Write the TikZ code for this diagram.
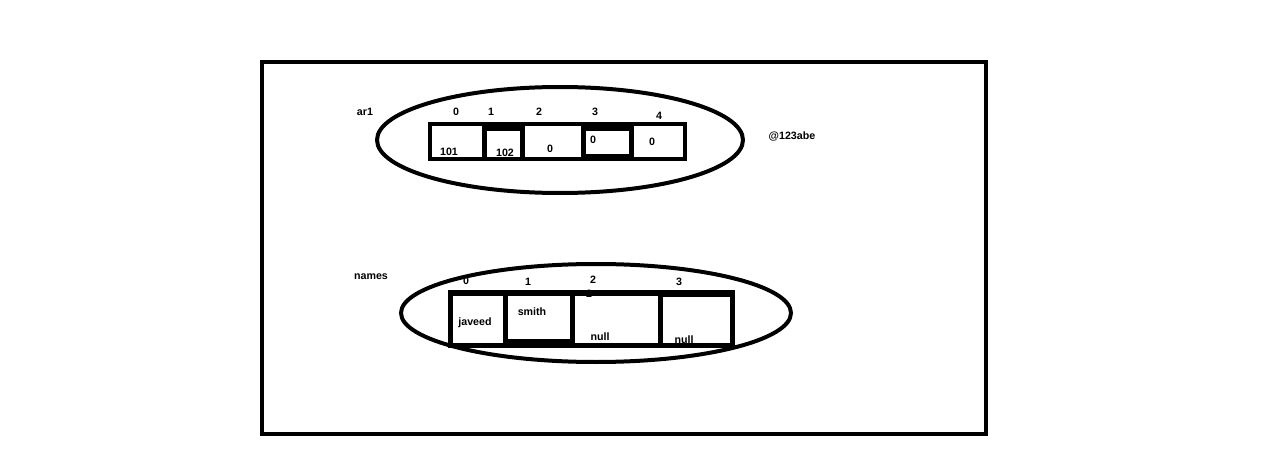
\documentclass[tikz,border=0pt]{standalone}
\usepackage{fontspec}
\newfontfamily\labfont{Liberation Sans}
\begin{document}
\begin{tikzpicture}[x=0.75pt,y=-0.75pt,
  lbl/.style={font=\labfont\bfseries\fontsize{8}{9.5}\selectfont, inner sep=0, text=black},
  heavy/.style={line width=3pt, draw=black},
  cellfill/.style={fill=white}]
\useasboundingbox (0,0) rectangle (1283,460);
% outer frame
\draw[heavy] (262,62) rectangle (986,434);

% ---- ar1 array ----
\fill[black] (428,122) rectangle (687,161);
\fill[cellfill] (432,126) rectangle (482,157);
\fill[cellfill] (487,131) rectangle (520,157);
\fill[cellfill] (525,126) rectangle (581,157);
\fill[cellfill] (586,131) rectangle (629,154);
\fill[cellfill] (634,126) rectangle (683,157);

\node[lbl] (ar1) at (365,112) {ar1};
\node[lbl] (i0) at (456,112) {0};
\node[lbl] (i1) at (491,112) {1};
\node[lbl] (i2) at (539,112) {2};
\node[lbl] (i3) at (595,112) {3};
\node[lbl] (i4) at (659,116) {4};
\node[lbl] (v0) at (449,152) {101};
\node[lbl] (v1) at (505,153) {102};
\node[lbl] (v2) at (550,149) {0};
\node[lbl] (v3) at (593,140) {0};
\node[lbl] (v4) at (652,142) {0};
\node[lbl] (addr) at (792,136) {@123abe};

\draw[heavy] (560,140) ellipse [x radius=183, y radius=53];

% ---- names array ----
\fill[black] (448,290) rectangle (735,348);
\fill[cellfill] (453,296) rectangle (503,343);
\fill[cellfill] (508,296) rectangle (570,339);
\fill[cellfill] (575,296) rectangle (658,343);
\fill[cellfill] (663,297) rectangle (730,343);

\node[lbl] (names) at (371,277) {names};
\node[lbl] (n0) at (466,281) {0};
\node[lbl] (n1) at (528,282) {1};
\node[lbl] (n2) at (593,280) {2};
\node[lbl] (n2b) at (589,294) {2};
\node[lbl] (n3) at (679,282) {3};
\node[lbl] (w0) at (475,323) {javeed};
\node[lbl] (w1) at (532,312) {smith};
\node[lbl] (w2) at (600,337) {null};
\node[lbl] (w3) at (684,340) {null};

\draw[heavy] (596,313) ellipse [x radius=195, y radius=49];
\end{tikzpicture}
\end{document}
